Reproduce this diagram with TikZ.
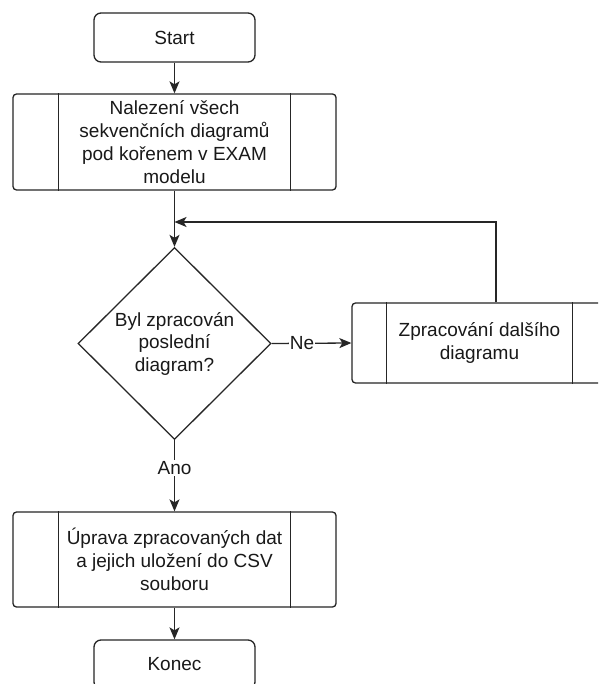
\documentclass[tikz,border=0pt]{standalone}
\usepackage{fontspec}
\setmainfont{Liberation Sans}
\usetikzlibrary{arrows.meta,shapes.geometric}
\begin{document}
\begin{tikzpicture}[x=1pt,y=-1pt,
  every node/.style={font=\fontsize{19}{23}\selectfont, align=center, inner sep=0pt, text=black!90},
  line/.style={draw=black!85, line width=1.3pt},
  arr/.style={line, -{Stealth[length=12pt,width=10pt,inset=3pt]}},
  term/.style={line, rounded corners=7pt, minimum width=161pt, minimum height=49pt},
  procbox/.style={line, rounded corners=3.5pt},
  dec/.style={line, diamond, minimum width=193pt, minimum height=192pt},
  lbl/.style={fill=white, inner sep=1pt}
]
\clip (0,0) rectangle (598,684);
\fill[white] (0,0) rectangle (598,684);

\node[term] (start) at (174.5,37.5) {Start};
\node[procbox, minimum width=323pt, minimum height=96pt] (b1) at (174.5,142)
  {Nalezení všech\\sekvenčních diagramů\\pod kořenem v EXAM\\modelu};
\draw[line] ([xshift=46pt]b1.north west) -- ([xshift=46pt]b1.south west);
\draw[line] ([xshift=-46pt]b1.north east) -- ([xshift=-46pt]b1.south east);

\node[dec, font=\fontsize{19}{22.5}\selectfont] (d) at (174.5,343.5) {Byl zpracován\\poslední\\diagram?};

\node[procbox, minimum width=255pt, minimum height=80pt] (b2) at (479.5,343)
  {Zpracování dalšího\\diagramu};
\draw[line] ([xshift=35pt]b2.north west) -- ([xshift=35pt]b2.south west);
\draw[line] ([xshift=-35pt]b2.north east) -- ([xshift=-35pt]b2.south east);

\node[procbox, minimum width=323pt, minimum height=95pt] (b3) at (174.5,559.5)
  {Úprava zpracovaných dat\\a jejich uložení do CSV\\souboru};
\draw[line] ([xshift=46pt]b3.north west) -- ([xshift=46pt]b3.south west);
\draw[line] ([xshift=-46pt]b3.north east) -- ([xshift=-46pt]b3.south east);

\node[term] (konec) at (174.5,664.5) {Konec};

\coordinate (lpb) at ([xshift=16.5pt]b2.north);
\coordinate (lp) at (lpb |- 0,222);
\coordinate (j) at (b1 |- lp);

\draw[arr] (start) -- (b1);
\draw[arr] (b1) -- (d);
\draw[arr] (d.east) -- node[lbl, pos=0.38] {Ne} (b2.west);
\draw[arr] (d.south) -- node[lbl, pos=0.39] {Ano} (b3.north);
\draw[arr] (b3) -- (konec);
\draw[arr] (lpb) -- (lp) -- (j);
\end{tikzpicture}
\end{document}
